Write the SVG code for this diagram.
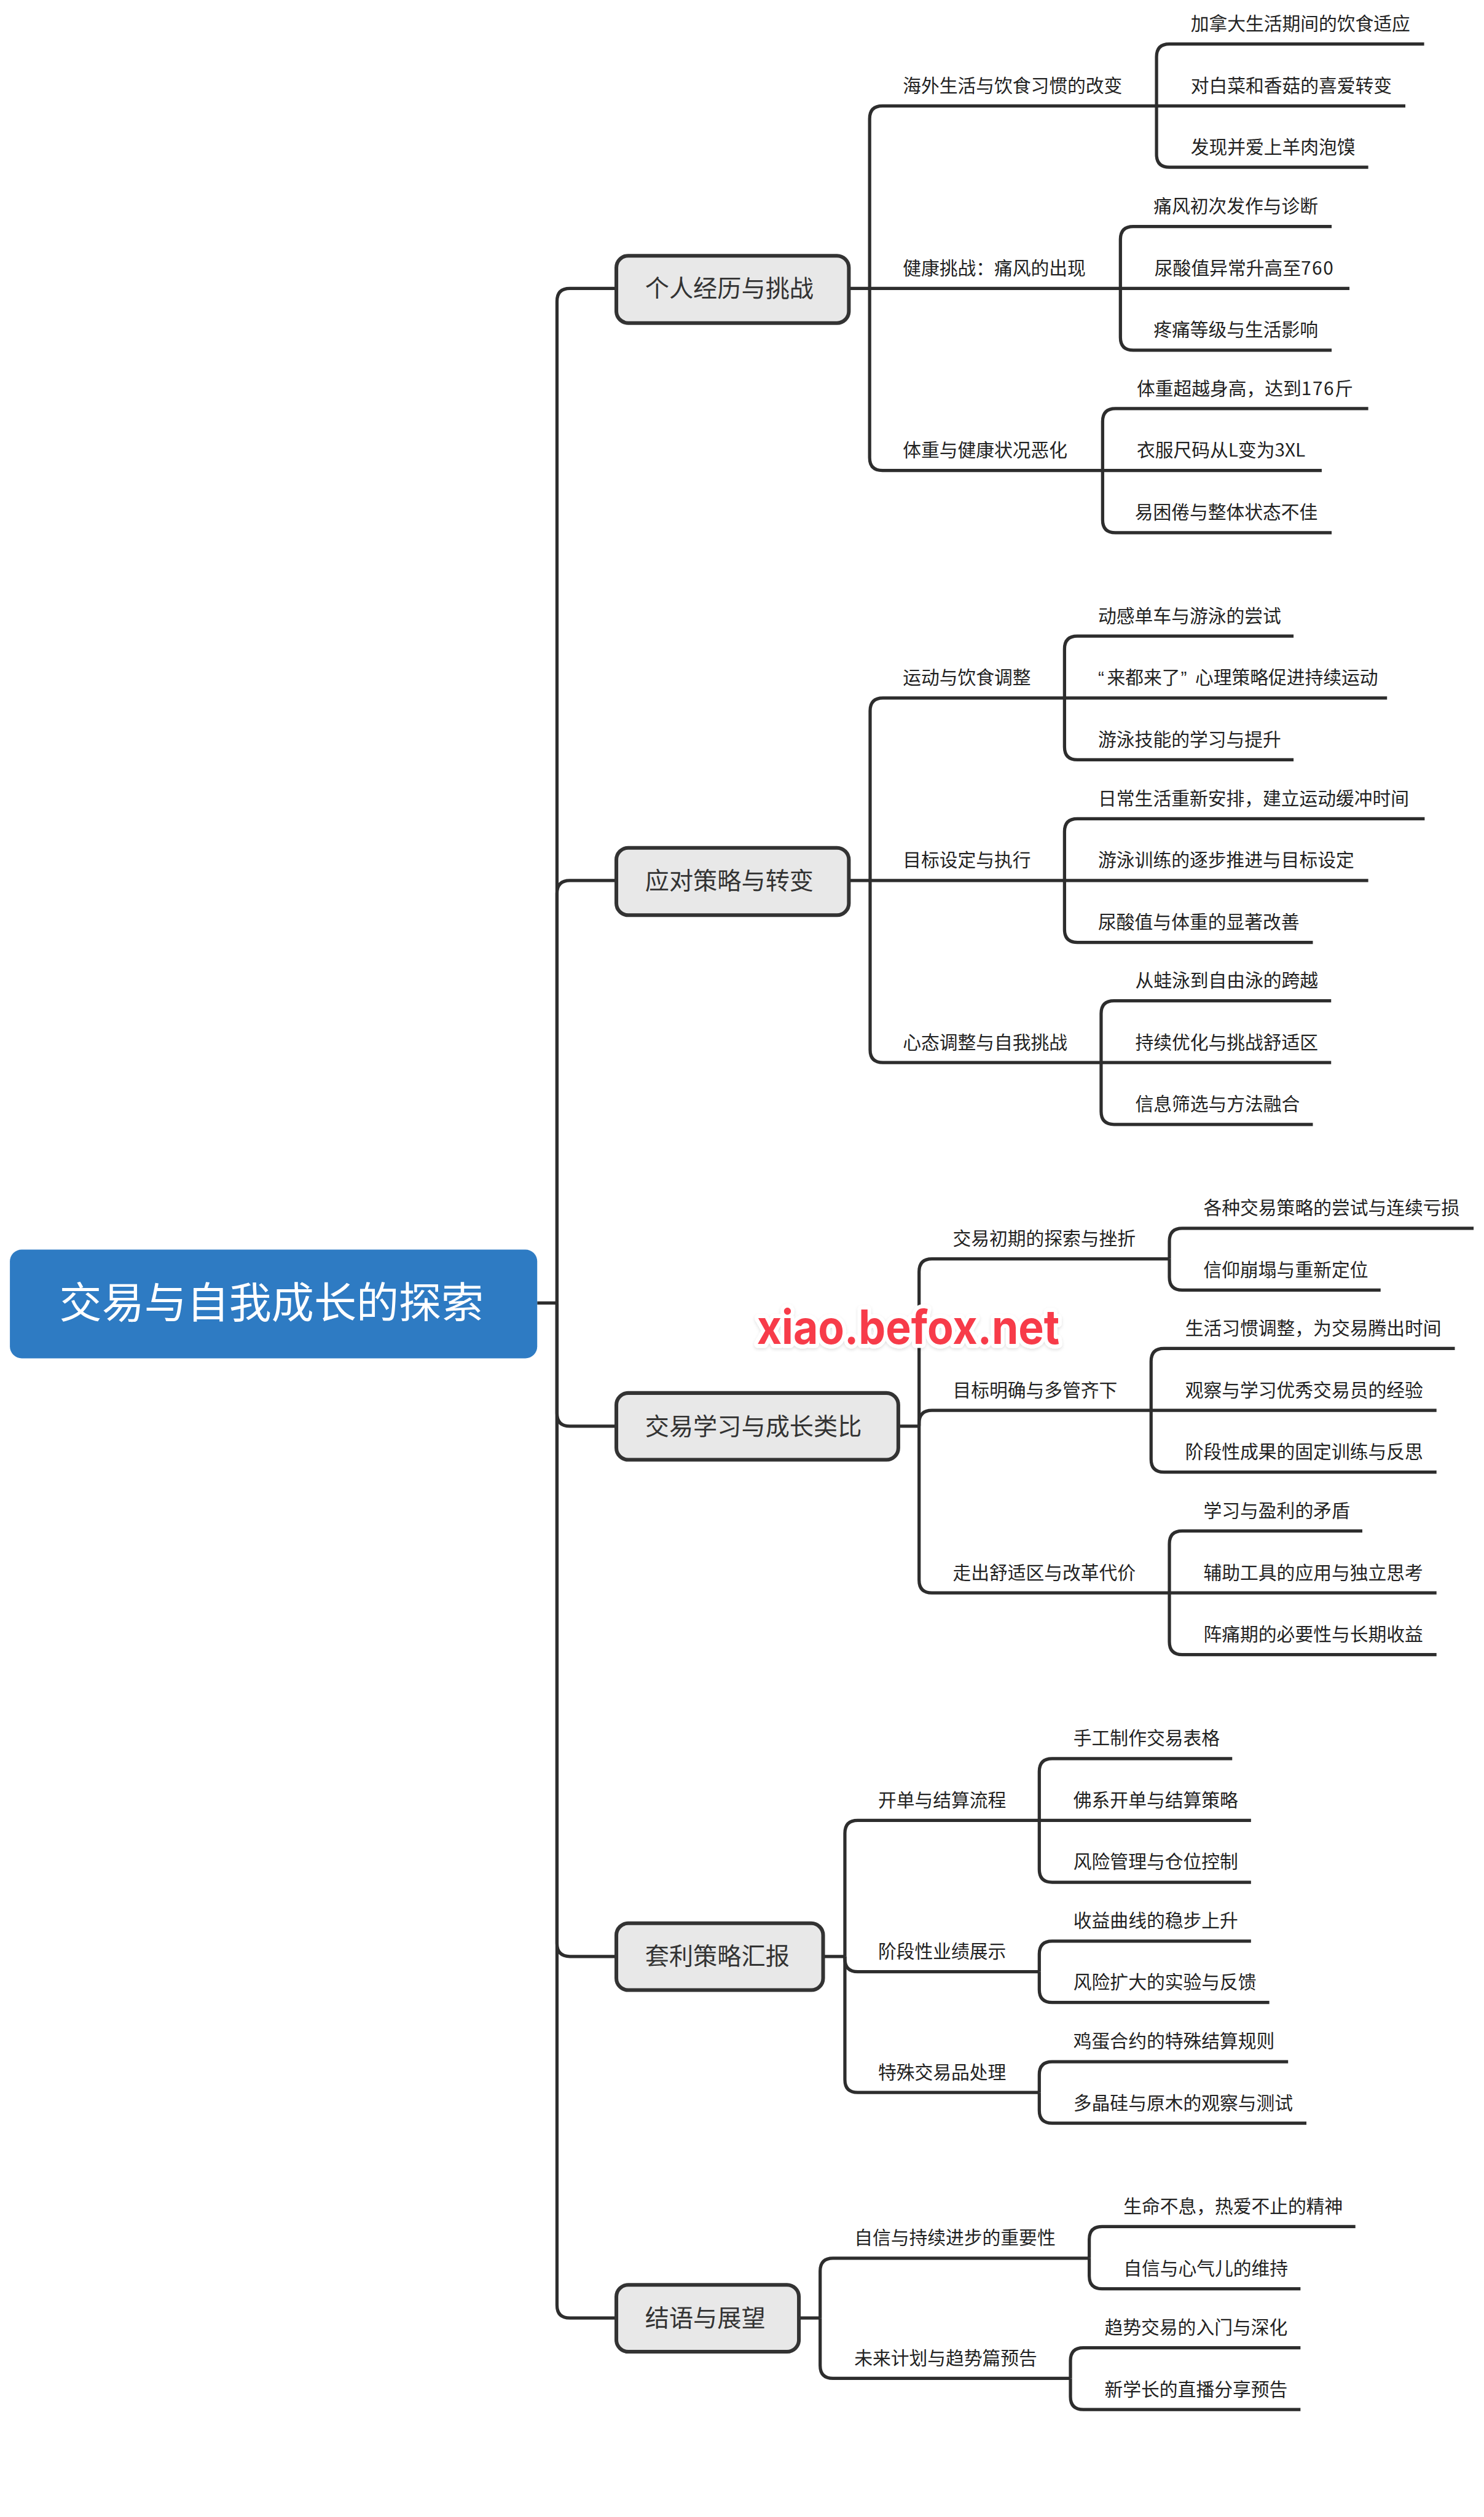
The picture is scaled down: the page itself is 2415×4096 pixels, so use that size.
<svg xmlns="http://www.w3.org/2000/svg" width="2415" height="4096" viewBox="0 0 2415 4096">
<defs>
<style>
text{font-family:"Noto Sans CJK SC","Noto Sans",sans-serif}
.c path{fill:none;stroke:#2d2d2d;stroke-width:6.5}
.l{font-size:37px;fill:#222}
.b rect{fill:#e8e8e8;stroke:#333;stroke-width:7.5}
.b text{font-size:48.7px;fill:#333}
.q{font-family:"Liberation Sans",sans-serif}
.d{letter-spacing:2px}
#root text{font-size:85.8px;fill:#fff}
#watermark text{font-family:Inter,"Liberation Sans",sans-serif;font-weight:700;font-size:95px;fill:#f73b4a;stroke:#fff;stroke-width:16px;stroke-linejoin:round;paint-order:stroke}
</style>
<filter id="sh" x="-5%" y="-20%" width="110%" height="140%"><feDropShadow dx="0" dy="3" stdDeviation="3" flood-color="#000" flood-opacity="0.12"/></filter>
</defs>
<rect width="2415" height="4096" fill="#fff"/>
<g transform="scale(0.805)">
<g id="connectors" class="c">
<path d="M1086 2634H1126"/>
<path d="M1126 2634V609Q1126 583 1152 583H1245"/>
<path d="M1126 2634V1806Q1126 1780 1152 1780H1245"/>
<path d="M1126 2634V2857Q1126 2883 1152 2883H1245"/>
<path d="M1126 2634V3929Q1126 3955 1152 3955H1245"/>
<path d="M1126 2634V4660Q1126 4686 1152 4686H1245"/>

<path d="M1716 583H2265"/>
<path d="M1758 583V240Q1758 214 1784 214H2338"/>
<path d="M1758 583V925Q1758 951 1784 951H2229"/>
<path d="M2338 214V115Q2338 89 2364 89H2879"/>
<path d="M2338 214H2841"/>
<path d="M2338 214V312Q2338 338 2364 338H2766"/>
<path d="M2265 583V484Q2265 458 2291 458H2692"/>
<path d="M2265 583H2728"/>
<path d="M2265 583V682Q2265 708 2291 708H2692"/>
<path d="M2229 951V852Q2229 826 2255 826H2766"/>
<path d="M2229 951H2672"/>
<path d="M2229 951V1051Q2229 1077 2255 1077H2692"/>

<path d="M1716 1780H2152"/>
<path d="M1759 1780V1437Q1759 1411 1785 1411H2152"/>
<path d="M1759 1780V2122Q1759 2148 1785 2148H2226"/>
<path d="M2152 1411V1312Q2152 1286 2178 1286H2615"/>
<path d="M2152 1411H2804"/>
<path d="M2152 1411V1510Q2152 1536 2178 1536H2615"/>
<path d="M2152 1780V1681Q2152 1655 2178 1655H2880"/>
<path d="M2152 1780H2766"/>
<path d="M2152 1780V1879Q2152 1905 2178 1905H2654"/>
<path d="M2226 2148V2049Q2226 2023 2252 2023H2691"/>
<path d="M2226 2148H2691"/>
<path d="M2226 2148V2247Q2226 2273 2252 2273H2654"/>

<path d="M1816 2883H1858"/>
<path d="M1858 2883V2571Q1858 2545 1884 2545H2364"/>
<path d="M1858 2883V2877Q1858 2851 1884 2851H2327"/>
<path d="M1858 2883V3194Q1858 3220 1884 3220H2364"/>
<path d="M2364 2545V2509Q2364 2483 2390 2483H2979"/>
<path d="M2364 2545V2582Q2364 2608 2390 2608H2791"/>
<path d="M2327 2851V2752Q2327 2726 2353 2726H2941"/>
<path d="M2327 2851H2904"/>
<path d="M2327 2851V2950Q2327 2976 2353 2976H2904"/>
<path d="M2364 3220V3121Q2364 3095 2390 3095H2754"/>
<path d="M2364 3220H2904"/>
<path d="M2364 3220V3319Q2364 3345 2390 3345H2904"/>

<path d="M1665 3955H1708"/>
<path d="M1708 3955V3706Q1708 3680 1734 3680H2101"/>
<path d="M1708 3955V3960Q1708 3986 1734 3986H2101"/>
<path d="M1708 3955V4204Q1708 4230 1734 4230H2101"/>
<path d="M2101 3680V3581Q2101 3555 2127 3555H2491"/>
<path d="M2101 3680H2529"/>
<path d="M2101 3680V3779Q2101 3805 2127 3805H2529"/>
<path d="M2101 3986V3950Q2101 3924 2127 3924H2529"/>
<path d="M2101 3986V4022Q2101 4048 2127 4048H2566"/>
<path d="M2101 4230V4194Q2101 4168 2127 4168H2604"/>
<path d="M2101 4230V4266Q2101 4292 2127 4292H2641"/>

<path d="M1616 4686H1658"/>
<path d="M1658 4686V4591Q1658 4565 1684 4565H2202"/>
<path d="M1658 4686V4782Q1658 4808 1684 4808H2164"/>
<path d="M2202 4565V4527Q2202 4501 2228 4501H2740"/>
<path d="M2202 4565V4601Q2202 4627 2228 4627H2629"/>
<path d="M2164 4808V4772Q2164 4746 2190 4746H2629"/>
<path d="M2164 4808V4845Q2164 4871 2190 4871H2629"/>
</g>

<g id="root"><rect x="20" y="2526" width="1066" height="220" rx="24" fill="#2e7bc3"/><text x="120" y="2664">交易与自我成长的探索</text></g>

<g id="n1" class="b"><rect x="1246" y="517" width="470" height="136" rx="24"/><text x="1304" y="600">个人经历与挑战</text></g>
<g id="n1a"><text class="l" x="1825" y="186">海外生活与饮食习惯的改变</text></g>
<g id="n1a1"><text class="l" x="2407" y="61">加拿大生活期间的饮食适应</text></g>
<g id="n1a2"><text class="l" x="2407" y="186">对白菜和香菇的喜爱转变</text></g>
<g id="n1a3"><text class="l" x="2407" y="310">发现并爱上羊肉泡馍</text></g>
<g id="n1b"><text class="l" x="1825" y="555">健康挑战：痛风的出现</text></g>
<g id="n1b1"><text class="l" x="2332" y="430">痛风初次发作与诊断</text></g>
<g id="n1b2"><text class="l" x="2334" y="555">尿酸值异常升高至<tspan class="d">760</tspan></text></g>
<g id="n1b3"><text class="l" x="2332" y="680">疼痛等级与生活影响</text></g>
<g id="n1c"><text class="l" x="1825" y="923">体重与健康状况恶化</text></g>
<g id="n1c1"><text class="l" x="2298" y="799">体重超越身高，达到<tspan class="d">176</tspan>斤</text></g>
<g id="n1c2"><text class="l" x="2298" y="923">衣服尺码从L变为3XL</text></g>
<g id="n1c3"><text class="l" x="2294" y="1049">易困倦与整体状态不佳</text></g>

<g id="n2" class="b"><rect x="1246" y="1714" width="470" height="136" rx="24"/><text x="1304" y="1797">应对策略与转变</text></g>
<g id="n2a"><text class="l" x="1825" y="1383">运动与饮食调整</text></g>
<g id="n2a1"><text class="l" x="2220" y="1258">动感单车与游泳的尝试</text></g>
<g id="n2a2"><text class="l" x="2220" y="1383"><tspan class="q">“</tspan><tspan x="2238">来都来了</tspan><tspan class="q" x="2387">”</tspan><tspan x="2416">心理策略促进持续运动</tspan></text></g>
<g id="n2a3"><text class="l" x="2220" y="1508">游泳技能的学习与提升</text></g>
<g id="n2b"><text class="l" x="1825" y="1752">目标设定与执行</text></g>
<g id="n2b1"><text class="l" x="2220" y="1627">日常生活重新安排，建立运动缓冲时间</text></g>
<g id="n2b2"><text class="l" x="2220" y="1752">游泳训练的逐步推进与目标设定</text></g>
<g id="n2b3"><text class="l" x="2220" y="1877">尿酸值与体重的显著改善</text></g>
<g id="n2c"><text class="l" x="1825" y="2120">心态调整与自我挑战</text></g>
<g id="n2c1"><text class="l" x="2295" y="1995">从蛙泳到自由泳的跨越</text></g>
<g id="n2c2"><text class="l" x="2295" y="2120">持续优化与挑战舒适区</text></g>
<g id="n2c3"><text class="l" x="2295" y="2245">信息筛选与方法融合</text></g>

<g id="n3" class="b"><rect x="1246" y="2816" width="570" height="135" rx="24"/><text x="1304" y="2900">交易学习与成长类比</text></g>
<g id="n3a"><text class="l" x="1926" y="2517">交易初期的探索与挫折</text></g>
<g id="n3a1"><text class="l" x="2433" y="2455">各种交易策略的尝试与连续亏损</text></g>
<g id="n3a2"><text class="l" x="2433" y="2580">信仰崩塌与重新定位</text></g>
<g id="n3b"><text class="l" x="1926" y="2823">目标明确与多管齐下</text></g>
<g id="n3b1"><text class="l" x="2396" y="2698">生活习惯调整，为交易腾出时间</text></g>
<g id="n3b2"><text class="l" x="2396" y="2823">观察与学习优秀交易员的经验</text></g>
<g id="n3b3"><text class="l" x="2396" y="2948">阶段性成果的固定训练与反思</text></g>
<g id="n3c"><text class="l" x="1926" y="3192">走出舒适区与改革代价</text></g>
<g id="n3c1"><text class="l" x="2433" y="3067">学习与盈利的矛盾</text></g>
<g id="n3c2"><text class="l" x="2433" y="3192">辅助工具的应用与独立思考</text></g>
<g id="n3c3"><text class="l" x="2433" y="3317">阵痛期的必要性与长期收益</text></g>

<g id="n4" class="b"><rect x="1246" y="3888" width="418" height="135" rx="24"/><text x="1304" y="3972">套利策略汇报</text></g>
<g id="n4a"><text class="l" x="1775" y="3652">开单与结算流程</text></g>
<g id="n4a1"><text class="l" x="2170" y="3527">手工制作交易表格</text></g>
<g id="n4a2"><text class="l" x="2170" y="3652">佛系开单与结算策略</text></g>
<g id="n4a3"><text class="l" x="2170" y="3777">风险管理与仓位控制</text></g>
<g id="n4b"><text class="l" x="1775" y="3958">阶段性业绩展示</text></g>
<g id="n4b1"><text class="l" x="2170" y="3896">收益曲线的稳步上升</text></g>
<g id="n4b2"><text class="l" x="2170" y="4020">风险扩大的实验与反馈</text></g>
<g id="n4c"><text class="l" x="1775" y="4202">特殊交易品处理</text></g>
<g id="n4c1"><text class="l" x="2170" y="4139">鸡蛋合约的特殊结算规则</text></g>
<g id="n4c2"><text class="l" x="2170" y="4264">多晶硅与原木的观察与测试</text></g>

<g id="n5" class="b"><rect x="1246" y="4619" width="369" height="135" rx="24"/><text x="1304" y="4703">结语与展望</text></g>
<g id="n5a"><text class="l" x="1727" y="4537">自信与持续进步的重要性</text></g>
<g id="n5a1"><text class="l" x="2271" y="4473">生命不息，热爱不止的精神</text></g>
<g id="n5a2"><text class="l" x="2271" y="4599">自信与心气儿的维持</text></g>
<g id="n5b"><text class="l" x="1727" y="4780">未来计划与趋势篇预告</text></g>
<g id="n5b1"><text class="l" x="2233" y="4718">趋势交易的入门与深化</text></g>
<g id="n5b2"><text class="l" x="2233" y="4843">新学长的直播分享预告</text></g>

<g id="watermark" filter="url(#sh)"><text x="1530" y="2717" textLength="612" lengthAdjust="spacingAndGlyphs">xiao.befox.net</text></g>
</g>
</svg>
